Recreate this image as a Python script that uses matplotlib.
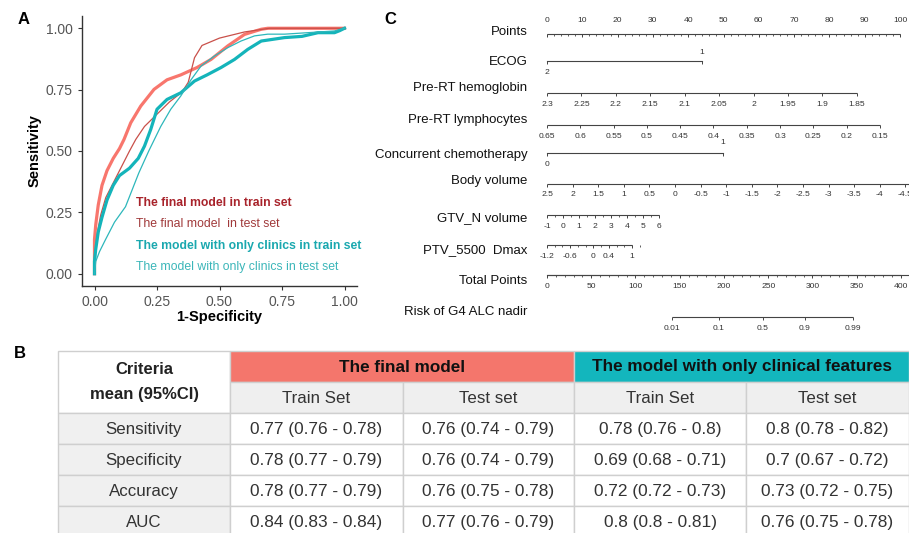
import numpy as np
import matplotlib.pyplot as plt
from matplotlib.patches import Rectangle

plt.rcParams['font.family'] = ['Liberation Sans', 'DejaVu Sans']

W, H = 909, 533

# ---- panel A: ROC curves
final_train_fpr = [0, 0, 0.005, 0.015, 0.03, 0.05, 0.075, 0.1, 0.118, 0.145, 0.185, 0.238, 0.29,
                   0.345, 0.41, 0.466, 0.533, 0.6, 0.667, 0.693, 1.0]
final_train_tpr = [0, 0.14, 0.2, 0.28, 0.36, 0.42, 0.47, 0.51, 0.547, 0.615, 0.683, 0.751, 0.79,
                   0.81, 0.84, 0.873, 0.928, 0.975, 0.996, 1.0, 1.0]
final_test_fpr = [0, 0.003, 0.01, 0.025, 0.045, 0.07, 0.1, 0.14, 0.165, 0.2, 0.25, 0.3, 0.35,
                  0.375, 0.4, 0.43, 0.5, 0.6, 0.7, 1.0]
final_test_tpr = [0, 0.08, 0.16, 0.24, 0.31, 0.36, 0.42, 0.5, 0.547, 0.6, 0.65, 0.7, 0.74,
                  0.78, 0.88, 0.93, 0.96, 0.985, 1.0, 1.0]
clin_train_fpr = [0, 0, 0.005, 0.015, 0.03, 0.05, 0.075, 0.1, 0.14, 0.175, 0.2, 0.225, 0.25, 0.29,
                  0.345, 0.4, 0.45, 0.506, 0.56, 0.613, 0.667, 0.76, 0.83, 0.894, 0.96, 0.98, 1.0]
clin_train_tpr = [0, 0.05, 0.1, 0.17, 0.23, 0.3, 0.36, 0.4, 0.43, 0.47, 0.52, 0.588, 0.67, 0.71,
                  0.737, 0.785, 0.81, 0.84, 0.873, 0.914, 0.948, 0.962, 0.967, 0.982, 0.982, 0.99, 1.0]
clin_test_fpr = [0, 0.005, 0.02, 0.044, 0.08, 0.124, 0.177, 0.217, 0.265, 0.305, 0.345, 0.386,
                 0.426, 0.48, 0.533, 0.586, 0.64, 0.693, 0.76, 0.96, 1.0]
clin_test_tpr = [0, 0.05, 0.09, 0.139, 0.21, 0.273, 0.41, 0.5, 0.6, 0.67, 0.724, 0.79,
                 0.846, 0.887, 0.921, 0.948, 0.969, 0.976, 0.976, 0.989, 1.0]
legend_labels = ['The final model in train set', 'The final model  in test set',
                 'The model with only clinics in train set', 'The model with only clinics in test set']

# ---- panel B: table
row_labels = ['Sensitivity', 'Specificity', 'Accuracy', 'AUC']
group_labels = ['The final model', 'The model with only clinical features']
set_labels = ['Train Set', 'Test set', 'Train Set', 'Test set']
final_train = ['0.77 (0.76 - 0.78)', '0.78 (0.77 - 0.79)', '0.78 (0.77 - 0.79)', '0.84 (0.83 - 0.84)']
final_test = ['0.76 (0.74 - 0.79)', '0.76 (0.74 - 0.79)', '0.76 (0.75 - 0.78)', '0.77 (0.76 - 0.79)']
clin_train = ['0.78 (0.76 - 0.8)', '0.69 (0.68 - 0.71)', '0.72 (0.72 - 0.73)', '0.8 (0.8 - 0.81)']
clin_test = ['0.8 (0.78 - 0.82)', '0.7 (0.67 - 0.72)', '0.73 (0.72 - 0.75)', '0.76 (0.75 - 0.78)']

# ---- panel C: nomogram scales (value -> points)
points_ticks = list(range(0, 101, 10))
ecog_vals, ecog_pts = [2, 1], [0, 43.9]
hgb_vals = [2.3, 2.25, 2.2, 2.15, 2.1, 2.05, 2, 1.95, 1.9, 1.85]
hgb_end = 87.8
lym_vals = [0.65, 0.6, 0.55, 0.5, 0.45, 0.4, 0.35, 0.3, 0.25, 0.2, 0.15]
lym_end = 94.3
chemo_vals, chemo_pts = [0, 1], [0, 49.9]
body_vals = [2.5, 2, 1.5, 1, 0.5, 0, -0.5, -1, -1.5, -2, -2.5, -3, -3.5, -4, -4.5, -5]
body_step = 7.25
gtv_vals = [-1, 0, 1, 2, 3, 4, 5, 6]
gtv_end = 31.7
ptv_vals = [-1.2, -0.6, 0, 0.4, 1]
ptv_per_unit = 10.94
total_ticks = [0, 50, 100, 150, 200, 250, 300, 350, 400]
total_per_point = 3.99
risk_vals = ['0.01', '0.1', '0.5', '0.9', '0.99']
risk_total = [141, 194, 244, 291.5, 346]

red = '#F8766D'
teal = '#00BFC4'

fig = plt.figure(figsize=(W / 100, H / 100), dpi=100)

# background axes in pixel units for table and panel letters
bg = fig.add_axes([0, 0, 1, 1])
bg.set_xlim(0, W)
bg.set_ylim(H, 0)
bg.axis('off')

bg.text(18, 20, 'A', fontsize=12, fontweight='bold', va='center')
bg.text(14, 353, 'B', fontsize=12, fontweight='bold', va='center')
bg.text(384, 20, 'C', fontsize=12, fontweight='bold', va='center')

# ---------------- table
col_x = [58, 230, 403, 574, 746, 909]
row_y = [351, 382, 413, 444, 475, 506, 537]
grid = '#CFCFCF'

def cell(x0, x1, y0, y1, fc):
    bg.add_patch(Rectangle((x0, y0), x1 - x0, y1 - y0, facecolor=fc, edgecolor=grid, lw=1))

cell(col_x[0], col_x[1], row_y[0], row_y[2], 'white')
cell(col_x[1], col_x[3], row_y[0], row_y[1], '#F4766C')
cell(col_x[3], col_x[5], row_y[0], row_y[1], '#13B6BD')
bg.text((col_x[0] + col_x[1]) / 2, 370, 'Criteria', ha='center', va='center',
        fontsize=12, fontweight='bold', color='#222222')
bg.text((col_x[0] + col_x[1]) / 2, 395, 'mean (95%CI)', ha='center', va='center',
        fontsize=12, fontweight='bold', color='#222222')
bg.text((col_x[1] + col_x[3]) / 2, 367, group_labels[0], ha='center', va='center',
        fontsize=12.3, fontweight='bold', color='#111111')
bg.text((col_x[3] + col_x[5]) / 2, 367, group_labels[1], ha='center', va='center',
        fontsize=12.3, fontweight='bold', color='#111111')
for j, lab in enumerate(set_labels):
    cell(col_x[j + 1], col_x[j + 2], row_y[1], row_y[2], '#EFEFEF')
    bg.text((col_x[j + 1] + col_x[j + 2]) / 2, (row_y[1] + row_y[2]) / 2 + 1, lab,
            ha='center', va='center', fontsize=12.2, color='#333333')

columns = [final_train, final_test, clin_train, clin_test]
for i, lab in enumerate(row_labels):
    y0, y1 = row_y[i + 2], row_y[i + 3]
    yc = (y0 + y1) / 2 + 1
    cell(col_x[0], col_x[1], y0, y1, '#F0F0F0')
    bg.text((col_x[0] + col_x[1]) / 2, yc, lab, ha='center', va='center',
            fontsize=12.2, color='#333333')
    for j, col in enumerate(columns):
        cell(col_x[j + 1], col_x[j + 2], y0, y1, 'white')
        bg.text((col_x[j + 1] + col_x[j + 2]) / 2, yc, col[i], ha='center', va='center',
                fontsize=12.4, color='#333333')

# ---------------- panel A
ax = fig.add_axes([82 / W, 1 - 286 / H, (357 - 82) / W, (286 - 16) / H])
ax.plot(final_train_fpr, final_train_tpr, color=red, lw=2.3, solid_joinstyle='round')
ax.plot(final_test_fpr, final_test_tpr, color='#C9504A', lw=0.9)
ax.plot(clin_train_fpr, clin_train_tpr, color='#14B4BA', lw=2.3, solid_joinstyle='round')
ax.plot(clin_test_fpr, clin_test_tpr, color='#2DB7BB', lw=0.9)
ax.set_xlim(-0.05, 1.05)
ax.set_ylim(-0.05, 1.05)
ax.set_xticks([0, 0.25, 0.5, 0.75, 1.0])
ax.set_yticks([0, 0.25, 0.5, 0.75, 1.0])
ax.set_xticklabels(['0.00', '0.25', '0.50', '0.75', '1.00'])
ax.set_yticklabels(['0.00', '0.25', '0.50', '0.75', '1.00'])
ax.tick_params(labelsize=10, colors='#333333', labelcolor='#555555', length=3, width=0.8)
for s in ['top', 'right']:
    ax.spines[s].set_visible(False)
for s in ['left', 'bottom']:
    ax.spines[s].set_color('#333333')
    ax.spines[s].set_linewidth(1)
ax.set_xlabel('1-Specificity', fontsize=10.5, fontweight='bold', labelpad=1)
ax.set_ylabel('Sensitivity', fontsize=10.5, fontweight='bold', labelpad=3)
leg_colors = ['#A8232B', '#A0393A', '#1AA8AF', '#3BB6B9']
leg_weights = ['bold', 'normal', 'bold', 'normal']
leg_y = [0.29, 0.204, 0.114, 0.029]
for lab, c, wgt, yy in zip(legend_labels, leg_colors, leg_weights, leg_y):
    ax.text(0.165, yy, lab, color=c, fontweight=wgt, fontsize=8.8, va='center')

# ---------------- panel C
px0 = 547
ppp = 3.53  # pixels per point
axc = fig.add_axes([380 / W, 1 - 335 / H, (W - 380) / W, 335 / H])
axc.set_xlim((380 - px0) / ppp, (W - px0) / ppp)
axc.set_ylim(335, 0)
axc.axis('off')
line_c = '#444444'
tick_fs = 6.1


def scale(y, pts, labels, minor=None, above=False, name=None, name_y=None):
    pts = np.asarray(pts, dtype=float)
    axc.plot([pts.min(), pts.max()], [y, y], color=line_c, lw=0.8, solid_capstyle='butt')
    axc.vlines(pts, y, y + 3, color=line_c, lw=0.7)
    if minor is not None:
        axc.vlines(minor, y, y + 1.8, color=line_c, lw=0.6)
    for p, lab in zip(pts, labels):
        if lab is None:
            continue
        axc.text(p, y - 13 if above else y + 11, lab, ha='center', va='center',
                 fontsize=tick_fs, color='#333333', clip_on=True)
    if name is not None:
        axc.text(-5.5, name_y, name, ha='right', va='center', fontsize=9.5, color='#111111')


# Points
scale(34, points_ticks, [str(v) for v in points_ticks],
      minor=np.arange(0, 101, 2), above=True, name='Points', name_y=32)

# ECOG: two-level scale
axc.plot(ecog_pts, [61, 61], color=line_c, lw=0.8)
axc.vlines(ecog_pts, 61, 64, color=line_c, lw=0.7)
axc.text(ecog_pts[1], 52, str(ecog_vals[1]), ha='center', va='center', fontsize=tick_fs, color='#333333')
axc.text(ecog_pts[0], 73, str(ecog_vals[0]), ha='center', va='center', fontsize=tick_fs, color='#333333')
axc.text(-5.5, 62, 'ECOG', ha='right', va='center', fontsize=9.5, color='#111111')

hgb_pts = np.interp(hgb_vals, [hgb_vals[-1], hgb_vals[0]], [hgb_end, 0])
scale(93, hgb_pts, [f'{v:g}' for v in hgb_vals], name='Pre-RT hemoglobin', name_y=88)

lym_pts = np.interp(lym_vals, [lym_vals[-1], lym_vals[0]], [lym_end, 0])
scale(125, lym_pts, [f'{v:g}' for v in lym_vals], name='Pre-RT lymphocytes', name_y=120)

axc.plot(chemo_pts, [153, 153], color=line_c, lw=0.8)
axc.vlines(chemo_pts, 153, 156, color=line_c, lw=0.7)
axc.text(chemo_pts[1], 143, str(chemo_vals[1]), ha='center', va='center', fontsize=tick_fs, color='#333333')
axc.text(chemo_pts[0], 165, str(chemo_vals[0]), ha='center', va='center', fontsize=tick_fs, color='#333333')
axc.text(-5.5, 155, 'Concurrent chemotherapy', ha='right', va='center', fontsize=9.5, color='#111111')

body_pts = (body_vals[0] - np.asarray(body_vals)) / 0.5 * body_step
scale(184, body_pts, [f'{v:g}' for v in body_vals], name='Body volume', name_y=181)

gtv_pts = np.interp(gtv_vals, [gtv_vals[0], gtv_vals[-1]], [0, gtv_end])
gtv_minor = np.interp(np.arange(-1, 6.01, 0.5), [gtv_vals[0], gtv_vals[-1]], [0, gtv_end])
scale(215, gtv_pts, [f'{v:g}' for v in gtv_vals], minor=gtv_minor, name='GTV_N volume', name_y=218)

ptv_pts = (np.asarray(ptv_vals) - ptv_vals[0]) * ptv_per_unit
ptv_minor = (np.arange(-1.2, 1.21, 0.2) - ptv_vals[0]) * ptv_per_unit
scale(245, ptv_pts, [f'{v:g}' for v in ptv_vals], minor=ptv_minor, name='PTV_5500  Dmax', name_y=250)

total_pts = np.asarray(total_ticks) / total_per_point
total_minor = np.arange(0, 411, 10) / total_per_point
axc.plot([0, 105], [275, 275], color=line_c, lw=0.8)
scale(275, total_pts, [str(v) for v in total_ticks], minor=total_minor, name='Total Points', name_y=281)

risk_pts = np.asarray(risk_total) / total_per_point
scale(317, risk_pts, risk_vals, name='Risk of G4 ALC nadir', name_y=312)

fig.savefig('out.png', dpi=100)
